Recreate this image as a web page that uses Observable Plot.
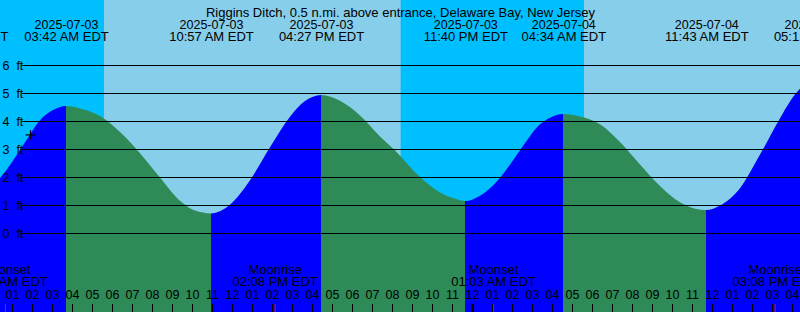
<!DOCTYPE html>
<html><head><meta charset="utf-8">
<script src="https://cdn.jsdelivr.net/npm/d3@7"></script>
<script src="https://cdn.jsdelivr.net/npm/@observablehq/plot@0.6"></script>
<style>
html,body{margin:0;padding:0;background:#fff;overflow:hidden}
svg{display:block}
</style>
</head><body><div id="chart"></div>
<script>
const title = "Riggins Ditch, 0.5 n.mi. above entrance, Delaware Bay, New Jersey";
const windowTimes = ["2025-07-03T00:24", "2025-07-04T16:24"];
// tide extremes (times in EDT)
const extremeTimes = ["2025-07-02T22:40","2025-07-03T03:42","2025-07-03T10:57","2025-07-03T16:27","2025-07-03T23:40","2025-07-04T04:34","2025-07-04T11:43","2025-07-04T17:12"];
const extremeFt = [1.0, 4.54, 0.70, 4.93, 1.14, 4.25, 0.82, 5.45];
// tide level read between extremes
const curveTimes = [
  "2025-07-03T00:24","2025-07-03T01:26","2025-07-03T01:54","2025-07-03T02:22","2025-07-03T03:03",
  "2025-07-03T04:24","2025-07-03T05:24","2025-07-03T06:24","2025-07-03T07:24","2025-07-03T08:24","2025-07-03T09:24","2025-07-03T10:09",
  "2025-07-03T11:51","2025-07-03T12:54","2025-07-03T13:54","2025-07-03T14:54","2025-07-03T15:39",
  "2025-07-03T17:24","2025-07-03T18:24","2025-07-03T19:24","2025-07-03T20:09","2025-07-03T21:24","2025-07-03T22:24","2025-07-03T23:03",
  "2025-07-04T00:24","2025-07-04T01:03","2025-07-04T01:24","2025-07-04T02:24","2025-07-04T03:24","2025-07-04T03:54",
  "2025-07-04T05:24","2025-07-04T06:24","2025-07-04T07:24","2025-07-04T08:24","2025-07-04T09:24","2025-07-04T10:24","2025-07-04T11:09",
  "2025-07-04T12:24","2025-07-04T13:24","2025-07-04T14:24","2025-07-04T15:24","2025-07-04T15:54","2025-07-04T16:24"
];
const curveFt = [
  1.96, 3.0, 3.52, 4.0, 4.39,
  4.45, 4.18, 3.61, 2.85, 1.98, 1.15, 0.80,
  0.98, 1.88, 3.06, 4.15, 4.71,
  4.72, 4.20, 3.45, 2.95, 2.00, 1.45, 1.25,
  1.33, 1.70, 1.97, 2.95, 3.88, 4.12,
  4.16, 3.88, 3.25, 2.45, 1.68, 1.10, 0.87,
  0.98, 1.6, 2.8, 4.1, 4.7, 5.15
];
const nowTime = "2025-07-03T01:54";
const nowFt = 3.52;
const sunriseTimes = ["2025-07-03T05:36", "2025-07-04T05:36"];
const sunsetTimes = ["2025-07-03T20:26", "2025-07-04T20:27"];
const moonEvents = ["Moonset", "Moonrise", "Moonset", "Moonrise"];
const moonTimes = ["2025-07-03T00:39", "2025-07-03T14:08", "2025-07-04T01:03", "2025-07-04T15:08"];
const gridFt = [0, 1, 2, 3, 4, 5, 6];

const colors = {night: "#00BFFF", day: "#87CEEB", rising: "#0000FF", falling: "#2E8B57", moon: "#FF0000"};
const T = s => new Date(s + ":00Z");
const fmtDate = d3.utcFormat("%Y-%m-%d");
const fmtTime = d3.utcFormat("%I:%M %p EDT");
const fmtHour = d3.utcFormat("%I");

const W = 800, H = 312;
const xDomain = windowTimes.map(T);
const yDomain = [-79 / 28, 233 / 28];

const extremes = extremeTimes.map((t, i) => ({t: T(t), ft: extremeFt[i]}));
const tide = extremes.concat(curveTimes.map((t, i) => ({t: T(t), ft: curveFt[i]}))).sort((a, b) => a.t - b.t);
const days = sunriseTimes.map((s, i) => ({start: T(s), end: T(sunsetTimes[i])}));
const moons = moonTimes.map((t, i) => ({t: T(t), name: moonEvents[i]}));
const hourTicks = d3.utcHour.range(d3.utcHour.floor(xDomain[0]), xDomain[1]);
const font = "Liberation Sans, Arial, sans-serif";

const chart = Plot.plot({
  width: W, height: H,
  marginTop: 0, marginBottom: 0, marginLeft: 0, marginRight: 0,
  x: {type: "utc", domain: xDomain, axis: null},
  y: {domain: yDomain, axis: null},
  style: {fontFamily: font, fontSize: "12.5px", background: colors.night, color: "black"},
  marks: [
    Plot.rect(days, {x1: "start", x2: "end", fill: colors.day}),
    Plot.areaY(tide, {x: "t", y1: yDomain[0], y2: "ft", fill: "url(#tideFill)", curve: "monotone-x", clip: true}),
    Plot.ruleY(gridFt, {stroke: "black", insetLeft: 22}),
    Plot.text(gridFt, {y: d => d, text: d => `${d}\u00a0\u00a0ft`, frameAnchor: "left", textAnchor: "start", dx: 2, fill: "black"}),
    Plot.dot([{t: T(nowTime), ft: nowFt}], {x: "t", y: "ft", symbol: "plus", r: 3.2, stroke: "black", strokeWidth: 1.2}),
    Plot.text([title], {text: d => d, frameAnchor: "top", dy: 7.5, fill: "black", fontSize: 13}),
    Plot.text(extremes, {x: "t", text: d => fmtDate(d.t), frameAnchor: "top", dy: 19.5, fill: "black"}),
    Plot.text(extremes, {x: "t", text: d => fmtTime(d.t), frameAnchor: "top", dy: 31.5, fill: "black", fontSize: 13}),
    Plot.text(moons, {x: "t", text: "name", frameAnchor: "bottom", dy: -39, fill: "black", fontSize: 13}),
    Plot.text(moons, {x: "t", text: d => fmtTime(d.t), frameAnchor: "bottom", dy: -26.5, fill: "black", fontSize: 13}),
    Plot.text(hourTicks, {x: d => d, text: d => fmtHour(d), frameAnchor: "bottom", dy: -14, fill: "black"}),
    Plot.ruleX(hourTicks.filter(d => d.getUTCHours() !== 0), {x: d => d, stroke: "black", insetTop: 304}),
    Plot.ruleX(hourTicks.filter(d => d.getUTCHours() === 0), {x: d => d, stroke: "black", strokeWidth: 3, insetTop: 304}),
    Plot.ruleX(moons, {x: "t", stroke: colors.moon, insetTop: 304})
  ]
});

// gradient giving the rising / falling colours between tide extremes
const xs = chart.scale("x");
const ns = "http://www.w3.org/2000/svg";
const defs = document.createElementNS(ns, "defs");
const grad = document.createElementNS(ns, "linearGradient");
grad.setAttribute("id", "tideFill");
grad.setAttribute("gradientUnits", "userSpaceOnUse");
grad.setAttribute("x1", 0); grad.setAttribute("x2", W);
grad.setAttribute("y1", 0); grad.setAttribute("y2", 0);
for (let i = 0; i + 1 < extremes.length; i++) {
  const a = extremes[i], b = extremes[i + 1];
  const c = b.ft > a.ft ? colors.rising : colors.falling;
  for (const e of [a, b]) {
    const stop = document.createElementNS(ns, "stop");
    stop.setAttribute("offset", Math.max(0, Math.min(1, xs.apply(e.t) / W)));
    stop.setAttribute("stop-color", c);
    grad.appendChild(stop);
  }
}
defs.appendChild(grad);
chart.insertBefore(defs, chart.firstChild);
document.getElementById("chart").appendChild(chart);
</script>
</body></html>
